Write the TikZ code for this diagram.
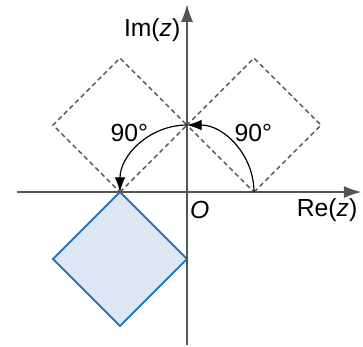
\documentclass[tikz,border=0pt]{standalone}
\usepackage{fontspec}
\setmainfont{Liberation Sans}
\usepackage{tikz}
\usetikzlibrary{arrows.meta,positioning,calc}
\definecolor{axisgrey}{RGB}{85,85,85}
\definecolor{squareblue}{RGB}{38,120,194}
\definecolor{squarefill}{RGB}{223,230,244}

\begin{document}
\begin{tikzpicture}[
    font=\fontsize{10.5}{12}\selectfont,
    axis/.style={-{Latex[length=2.6mm,width=1.8mm]}, line width=0.5pt, axisgrey},
    ghost/.style={draw=axisgrey, line width=0.6pt, dash pattern=on 2pt off 1.4pt},
    image/.style={draw=squareblue, line width=0.8pt, fill=squarefill},
    turn/.style={-{Latex[length=2.2mm,width=1.6mm]}, line width=0.5pt, black},
    lbl/.style={inner sep=1pt}
]
    \useasboundingbox (-2.791,-2.299) rectangle (2.627,2.866);

    % Rotated copies (dashed), drawn first
    \draw[ghost] (1,0) -- (2,1) -- (1,2) -- (0,1) -- cycle;
    \draw[ghost] (-1,0) -- (0,1) -- (-1,2) -- (-2,1) -- cycle;

    % Final square
    \draw[image] (-1,0) -- (0,-1) -- (-1,-2) -- (-2,-1) -- cycle;

    % Axes
    \coordinate (xmin) at (-2.54,0);
    \coordinate (xmax) at (2.6,0);
    \coordinate (ymin) at (0,-2.28);
    \coordinate (ymax) at (0,2.8);
    \draw[axis] (xmin) -- (xmax);
    \draw[axis] (ymin) -- (ymax);

    \node[lbl] (re) at (2.09,-0.27) {Re(\textit{z})};
    \node[lbl] (im) at (-0.52,2.42) {Im(\textit{z})};
    \node[lbl] (orig) at (0.19,-0.27) {\textit{O}};

    % Two quarter turns
    \coordinate (A) at (1,0);
    \coordinate (B) at (0,1);
    \coordinate (C) at (-1,0);
    \draw[turn] (A) arc (0:90:1);
    \draw[turn] (B) arc (90:180:1);

    \node[lbl] (rightangle) at (0.99,0.88) {90°};
    \node[lbl] (leftangle) at (-0.86,0.88) {90°};
\end{tikzpicture}
\end{document}
